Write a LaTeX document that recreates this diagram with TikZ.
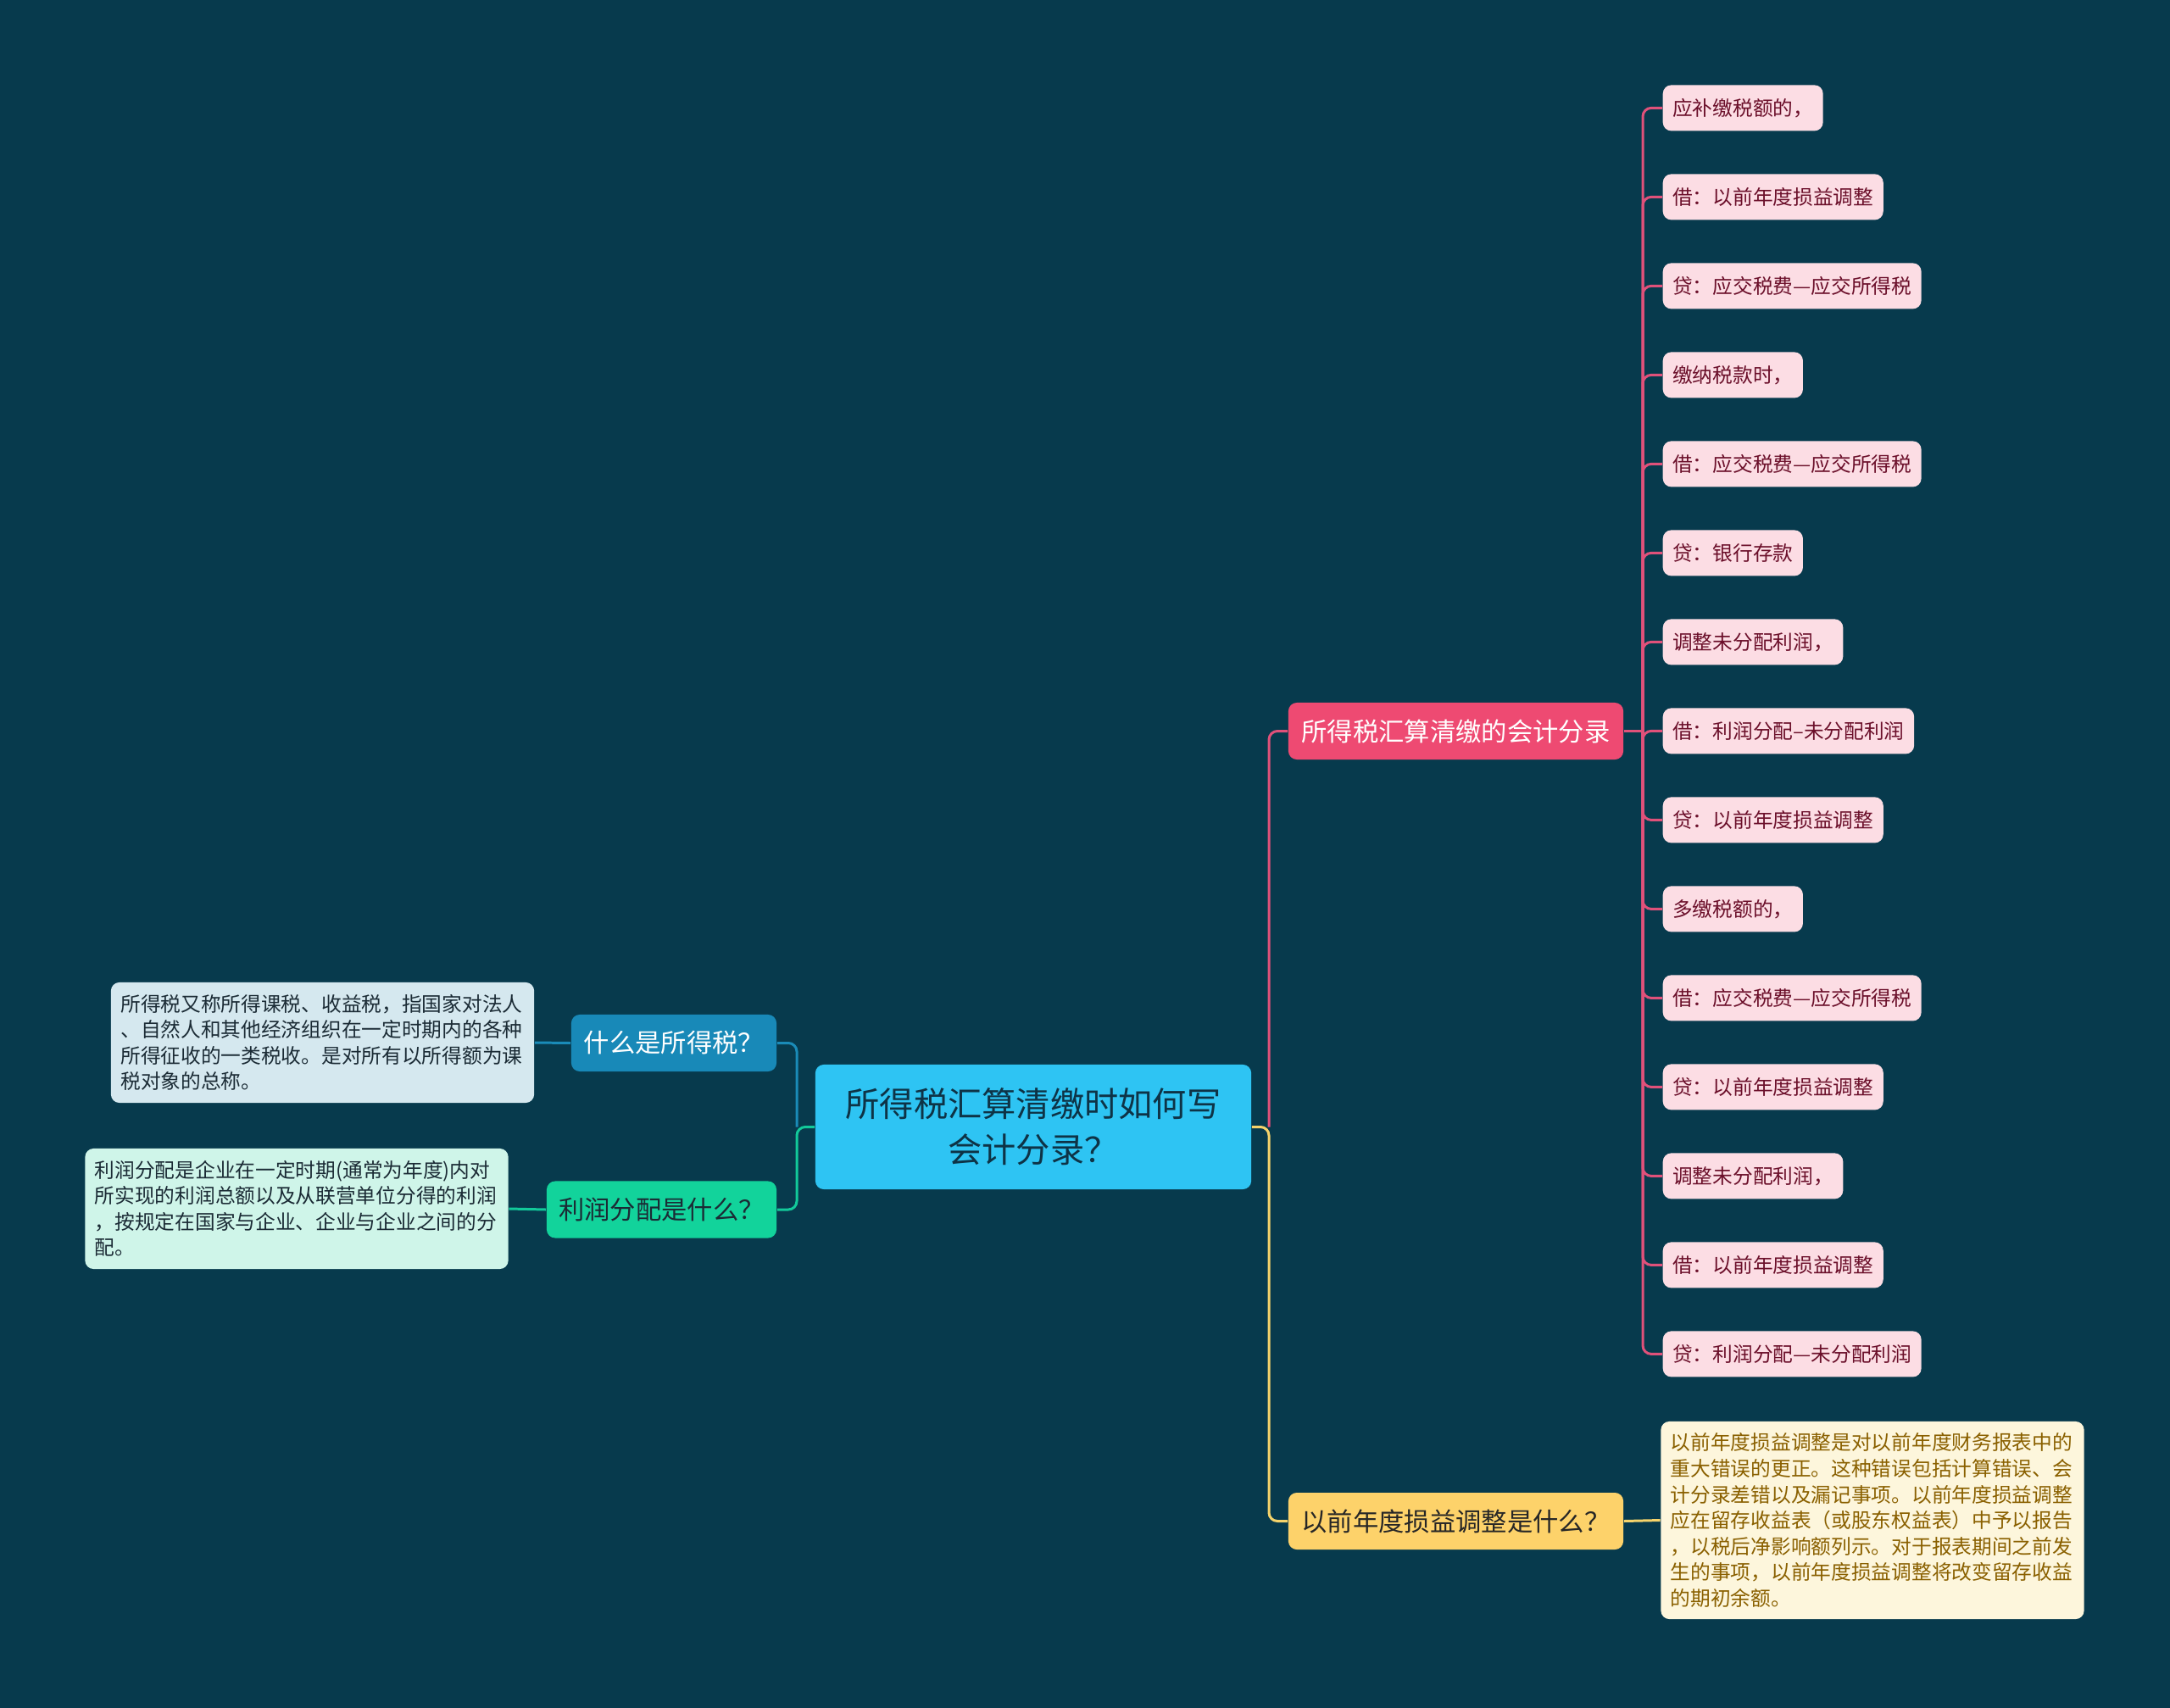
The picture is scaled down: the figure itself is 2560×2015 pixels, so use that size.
\documentclass[tikz,border=0pt]{standalone}
\usepackage{fontspec}
\setmainfont{Noto Sans CJK SC}
\definecolor{bgc}{HTML}{073A4D}
\definecolor{rootfill}{HTML}{2EC4F3}
\definecolor{roottext}{HTML}{0E3346}
\definecolor{pinkfill}{HTML}{EE4A72}
\definecolor{pinkline}{HTML}{E0517A}
\definecolor{pinkleaf}{HTML}{FCDDE4}
\definecolor{pinktext}{HTML}{6B0F2A}
\definecolor{yelfill}{HTML}{FDD26A}
\definecolor{yelline}{HTML}{F5D36B}
\definecolor{yelleaf}{HTML}{FDF6DC}
\definecolor{yeltext}{HTML}{8A6000}
\definecolor{bluefill}{HTML}{1889B8}
\definecolor{blueline}{HTML}{1A8BB8}
\definecolor{blueleaf}{HTML}{D5E8EF}
\definecolor{greenfill}{HTML}{12D39B}
\definecolor{greenline}{HTML}{12C99A}
\definecolor{greenleaf}{HTML}{CFF5E9}
\definecolor{darktext}{HTML}{1B2B35}
\tikzset{
  leaffont/.style={font=\fontsize{6.74pt}{8.68pt}\selectfont},
  branchfont/.style={font=\fontsize{8.62pt}{10pt}\selectfont},
  rootbox/.style={rounded corners=1mm, fill=rootfill, text=roottext, minimum width=51.4mm, minimum height=14.7mm, align=center, inner sep=0pt, font=\fontsize{11.44pt}{15.4pt}\selectfont},
  branchbox/.style={rounded corners=1mm, branchfont, minimum height=6.7mm, inner sep=0pt},
  pleaf/.style={rounded corners=1mm, fill=pinkleaf, text=pinktext, leaffont, minimum height=5.4mm, inner xsep=1.15mm, inner ysep=0pt, anchor=west},
  tleaf/.style={rounded corners=1mm, leaffont, text width=47.6mm, align=left, inner xsep=1.15mm, inner ysep=0pt},
  conn/.style={line width=0.85pt, rounded corners=1mm}
}
\begin{document}
\begin{tikzpicture}[x=0.01cm, y=-0.01cm]
\fill[bgc] (0,0) rectangle (2560,2015);
\useasboundingbox (0,0) rectangle (2560,2015);

% root
\node[rootbox] (root) at (1219,1329.5) {所得税汇算清缴时如何写\\会计分录？};

% branches
\node[branchbox, fill=pinkfill, text=white, minimum width=39.5mm] (pb) at (1717.5,862.5) {所得税汇算清缴的会计分录};
\node[branchbox, fill=yelfill, text=black!85, minimum width=39.5mm] (yb) at (1717.5,1794.5) {以前年度损益调整是什么？};
\node[branchbox, fill=bluefill, text=white, minimum width=24.2mm] (bb) at (795,1230.5) {什么是所得税？};
\node[branchbox, fill=greenfill, text=darktext, minimum width=27.1mm] (gb) at (780.5,1427) {利润分配是什么？};

% text leaves
\node[tleaf, fill=blueleaf, text=darktext, minimum height=14.2mm] (bl) at (380.5,1230) {所得税又称所得课税、收益税，指国家对法人\\、自然人和其他经济组织在一定时期内的各种\\所得征收的一类税收。是对所有以所得额为课\\税对象的总称。};
\node[tleaf, fill=greenleaf, text=darktext, minimum height=14.2mm] (gl) at (350,1426) {利润分配是企业在一定时期(通常为年度)内对\\所实现的利润总额以及从联营单位分得的利润\\，按规定在国家与企业、企业与企业之间的分\\配。};
\node[tleaf, fill=yelleaf, text=yeltext, minimum height=23.3mm] (yl) at (2209,1793.5) {以前年度损益调整是对以前年度财务报表中的\\重大错误的更正。这种错误包括计算错误、会\\计分录差错以及漏记事项。以前年度损益调整\\应在留存收益表（或股东权益表）中予以报告\\，以税后净影响额列示。对于报表期间之前发\\生的事项，以前年度损益调整将改变留存收益\\的期初余额。};

% pink leaves
\node[pleaf] (p1) at (1961,127.4) {应补缴税额的，};
\node[pleaf] (p2) at (1961,232.4) {借：以前年度损益调整};
\node[pleaf] (p3) at (1961,337.4) {贷：应交税费—应交所得税};
\node[pleaf] (p4) at (1961,442.4) {缴纳税款时，};
\node[pleaf] (p5) at (1961,547.4) {借：应交税费—应交所得税};
\node[pleaf] (p6) at (1961,652.4) {贷：银行存款};
\node[pleaf] (p7) at (1961,757.4) {调整未分配利润，};
\node[pleaf] (p8) at (1961,862.4) {借：利润分配–未分配利润};
\node[pleaf] (p9) at (1961,967.4) {贷：以前年度损益调整};
\node[pleaf] (p10) at (1961,1072.4) {多缴税额的，};
\node[pleaf] (p11) at (1961,1177.4) {借：应交税费—应交所得税};
\node[pleaf] (p12) at (1961,1282.4) {贷：以前年度损益调整};
\node[pleaf] (p13) at (1961,1387.4) {调整未分配利润，};
\node[pleaf] (p14) at (1961,1492.4) {借：以前年度损益调整};
\node[pleaf] (p15) at (1961,1597.4) {贷：利润分配—未分配利润};

% junctions
\coordinate (rj) at (1497,1329.5);
\coordinate (lj) at (940,1329.5);
\coordinate (pj) at (1938,862.5);

% connectors from root
\draw[conn, pinkline] (rj) |- (pb.west);
\draw[conn, yelline] (root.east) -- (rj) |- (yb.west);
\draw[conn, blueline] (lj) |- (bb.east);
\draw[conn, greenline] (root.west) -- (lj) |- (gb.east);

% branch to leaves
\draw[conn, blueline] (bb.west) -- (bl.east);
\draw[conn, greenline] (gb.west) -- (gl.east);
\draw[conn, yelline] (yb.east) -- (yl.west);
\draw[conn, pinkline] (pb.east) -- (pj);
\foreach \i in {1,...,15} {
  \draw[conn, pinkline] (pj) |- (p\i.west);
}
\end{tikzpicture}
\end{document}
